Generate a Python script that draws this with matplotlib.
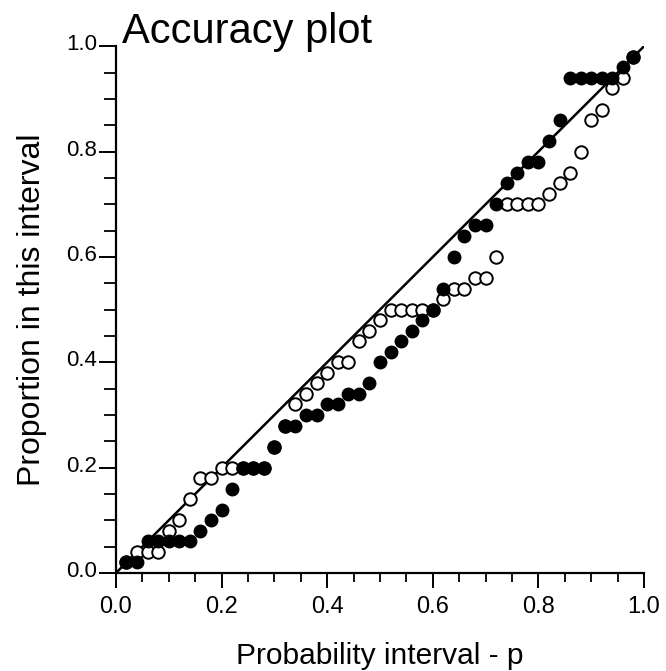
import matplotlib.pyplot as plt
import matplotlib.transforms as mtransforms
from matplotlib.ticker import MultipleLocator

# probability intervals p = 0.02 ... 0.98
p_interval = [0.02, 0.04, 0.06, 0.08, 0.10, 0.12, 0.14, 0.16, 0.18, 0.20,
              0.22, 0.24, 0.26, 0.28, 0.30, 0.32, 0.34, 0.36, 0.38, 0.40,
              0.42, 0.44, 0.46, 0.48, 0.50, 0.52, 0.54, 0.56, 0.58, 0.60,
              0.62, 0.64, 0.66, 0.68, 0.70, 0.72, 0.74, 0.76, 0.78, 0.80,
              0.82, 0.84, 0.86, 0.88, 0.90, 0.92, 0.94, 0.96, 0.98]

# proportion of true values falling inside each interval
filled_prop = [0.02, 0.02, 0.06, 0.06, 0.06, 0.06, 0.06, 0.08, 0.10, 0.12,
               0.16, 0.20, 0.20, 0.20, 0.24, 0.28, 0.28, 0.30, 0.30, 0.32,
               0.32, 0.34, 0.34, 0.36, 0.40, 0.42, 0.44, 0.46, 0.48, 0.50,
               0.54, 0.60, 0.64, 0.66, 0.66, 0.70, 0.74, 0.76, 0.78, 0.78,
               0.82, 0.86, 0.94, 0.94, 0.94, 0.94, 0.94, 0.96, 0.98]

open_prop = [0.02, 0.04, 0.04, 0.04, 0.08, 0.10, 0.14, 0.18, 0.18, 0.20,
             0.20, 0.20, 0.20, 0.20, 0.24, 0.28, 0.32, 0.34, 0.36, 0.38,
             0.40, 0.40, 0.44, 0.46, 0.48, 0.50, 0.50, 0.50, 0.50, 0.50,
             0.52, 0.54, 0.54, 0.56, 0.56, 0.60, 0.70, 0.70, 0.70, 0.70,
             0.72, 0.74, 0.76, 0.80, 0.86, 0.88, 0.92, 0.94, 0.98]

plt.rcParams['font.family'] = ['Liberation Sans', 'DejaVu Sans']

fig = plt.figure(figsize=(6.66, 6.71), dpi=100)
ax = fig.add_axes([0.174, 0.146, 0.793, 0.785])

# perfect-accuracy reference line
ax.plot([0, 1], [0, 1], color='black', lw=1.8, zorder=1)

ax.plot(p_interval, open_prop, 'o', ms=9, mfc='white', mec='black',
        mew=1.4, clip_on=False, zorder=2)
ax.plot(p_interval, filled_prop, 'o', ms=9, mfc='black', mec='black',
        mew=1.0, clip_on=False, zorder=3)

ax.set_xlim(0, 1)
ax.set_ylim(0, 1)

for side in ['top', 'right']:
    ax.spines[side].set_visible(False)
for side in ['left', 'bottom']:
    ax.spines[side].set_linewidth(1.6)

ax.xaxis.set_major_locator(MultipleLocator(0.2))
ax.xaxis.set_minor_locator(MultipleLocator(0.05))
ax.yaxis.set_major_locator(MultipleLocator(0.2))
ax.yaxis.set_minor_locator(MultipleLocator(0.05))
ax.xaxis.set_major_formatter(plt.FormatStrFormatter('%.1f'))
ax.yaxis.set_major_formatter(plt.FormatStrFormatter('%.1f'))

ax.tick_params(axis='x', which='major', direction='out', length=10.5,
               width=1.4, labelsize=17, pad=6)
ax.tick_params(axis='x', which='minor', direction='out', length=6.5, width=1.3)
ax.tick_params(axis='y', which='major', direction='out', length=12.5,
               width=1.4, labelsize=16, pad=1)
ax.tick_params(axis='y', which='minor', direction='out', length=8.5, width=1.3)

# y labels sit a little above their ticks
shift = mtransforms.ScaledTranslation(0, 4 / 100, fig.dpi_scale_trans)
for lab in ax.get_yticklabels():
    lab.set_transform(lab.get_transform() + shift)

ax.set_xlabel('Probability interval - p', fontsize=21.5, labelpad=17)
ax.set_ylabel('Proportion in this interval', fontsize=23, labelpad=14)

fig.text(0.183, 1 - 43 / 671, 'Accuracy plot', fontsize=30,
         ha='left', va='baseline')

fig.savefig('out.png', dpi=100)
